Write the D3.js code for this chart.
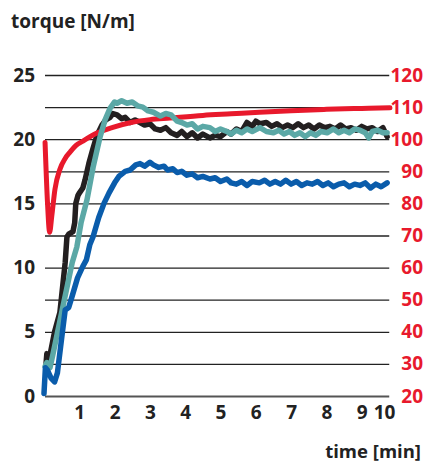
<!DOCTYPE html>
<html>
<head>
<meta charset="utf-8">
<script src="https://cdn.jsdelivr.net/npm/d3@7"></script>
<style>
  body { margin: 0; background: #fff; }
  text { font-family: "Open Sans", sans-serif; font-weight: 700; }
</style>
</head>
<body>
<script>
// tick labels
var leftTicks = [0, 5, 10, 15, 20, 25];
var rightTicks = [20, 30, 40, 50, 60, 70, 80, 90, 100, 110, 120];
var timeTicks = [1, 2, 3, 4, 5, 6, 7, 8, 9, 10];
var gridValues = [0, 2.5, 5, 7.5, 10, 12.5, 15, 17.5, 20, 22.5, 25];

// [time in min, torque N/m]
var blackSeries = [[0.06,2.6],[0.08,3.3],[0.12,3.0],[0.17,3.2],[0.3,5.0],[0.45,6.5],[0.6,10.4],[0.65,12.4],[0.7,12.6],
  [0.82,12.8],[0.87,13.5],[0.9,15.0],[0.96,15.6],[1.0,15.8],[1.1,16.2],[1.16,16.8],[1.27,18.1],[1.39,19.3],[1.5,20.3],
  [1.64,21.1],[1.75,21.5],[1.87,21.7],[1.95,22.0],[2.07,21.9],[2.2,21.6],[2.3,21.7],[2.44,21.3],[2.58,21.5],[2.72,21.3],
  [2.85,21.1],[3.0,21.2],[3.15,20.8],[3.3,20.7],[3.45,20.9],[3.6,20.5],[3.77,20.3],[3.9,20.6],[4.05,20.2],[4.2,20.5],
  [4.35,20.1],[4.5,20.4],[4.7,20.1],[4.85,20.3],[5.0,20.2],[5.18,20.6],[5.3,20.4],[5.45,20.8],[5.6,20.6],[5.75,21.3],
  [5.9,21.0],[6.0,21.4],[6.12,21.2],[6.3,21.3],[6.45,21.0],[6.6,21.2],[6.75,20.9],[6.9,21.1],[7.05,20.9],[7.2,21.2],
  [7.35,20.9],[7.5,21.1],[7.65,20.8],[7.8,21.1],[7.95,20.9],[8.1,21.0],[8.25,20.8],[8.4,21.1],[8.55,20.8],[8.7,20.9],
  [8.85,20.7],[9.0,21.0],[9.15,20.8],[9.3,20.9],[9.45,20.6],[9.6,20.9],[9.72,20.2]];

var tealSeries = [[0.03,2.3],[0.08,2.6],[0.17,2.2],[0.25,3.2],[0.5,6.5],[0.8,10.4],[0.93,11.6],[1.05,13.5],[1.22,15.3],
  [1.39,17.8],[1.59,20.2],[1.73,21.5],[1.87,22.4],[2.0,22.9],[2.07,22.8],[2.2,23.0],[2.35,22.8],[2.5,22.9],[2.65,22.6],
  [2.8,22.5],[2.95,22.2],[3.1,22.1],[3.3,21.8],[3.45,22.0],[3.6,21.9],[3.77,21.4],[3.9,21.3],[4.05,21.1],[4.2,21.2],
  [4.35,20.8],[4.5,21.0],[4.7,20.9],[4.85,20.6],[5.0,20.8],[5.18,20.6],[5.3,20.4],[5.45,20.7],[5.6,20.5],[5.75,20.8],
  [5.9,20.6],[6.12,20.9],[6.3,20.6],[6.5,20.5],[6.65,20.7],[6.8,20.4],[6.95,20.6],[7.1,20.3],[7.25,20.5],[7.4,20.2],
  [7.55,20.5],[7.7,20.3],[7.85,20.6],[8.02,20.5],[8.2,20.8],[8.35,20.5],[8.5,20.7],[8.65,20.5],[8.8,20.8],[8.95,20.7],
  [9.1,20.5],[9.2,20.1],[9.3,20.6],[9.45,20.7],[9.6,20.5],[9.72,20.5]];

var blueSeries = [[0.0,0.2],[0.04,2.2],[0.1,2.0],[0.2,1.4],[0.3,1.1],[0.38,1.8],[0.5,4.5],[0.6,6.7],[0.7,6.9],[0.8,7.8],
  [0.95,9.2],[1.1,10.1],[1.2,10.6],[1.3,11.8],[1.39,12.4],[1.55,13.9],[1.7,15.0],[1.84,15.8],[2.0,16.6],[2.12,17.1],
  [2.3,17.5],[2.44,17.6],[2.6,18.0],[2.72,18.1],[2.85,17.9],[3.0,18.2],[3.1,18.0],[3.25,17.8],[3.4,17.9],[3.5,17.6],
  [3.65,17.7],[3.77,17.4],[3.9,17.5],[4.05,17.2],[4.2,17.3],[4.35,17.0],[4.5,17.1],[4.7,16.9],[4.85,17.0],[5.0,16.7],
  [5.18,16.9],[5.3,16.6],[5.45,16.5],[5.6,16.7],[5.75,16.4],[5.9,16.7],[6.1,16.6],[6.25,16.8],[6.4,16.5],[6.55,16.7],
  [6.7,16.5],[6.85,16.8],[7.0,16.5],[7.15,16.7],[7.3,16.4],[7.45,16.6],[7.6,16.5],[7.75,16.7],[7.9,16.4],[8.05,16.6],
  [8.2,16.3],[8.35,16.5],[8.5,16.6],[8.65,16.3],[8.8,16.5],[8.95,16.4],[9.1,16.6],[9.25,16.2],[9.4,16.5],[9.55,16.3],
  [9.72,16.6]];

// red curve uses the right-hand axis
var redSeries = [[0.03,99],[0.1,80],[0.16,71],[0.22,76],[0.31,84.4],[0.45,90.6],[0.6,94],[0.74,96],[0.9,98],[1.1,99.4],
  [1.5,101.9],[1.95,103.7],[2.5,105.3],[3.0,106.1],[3.57,106.6],[4.5,107.4],[5.3,107.9],[6.1,108.4],[7,108.9],[8,109.3],
  [9,109.6],[9.8,109.8]];

var width = 424, height = 464;

var x = d3.scaleLinear().domain([0, 10]).range([44, 397]);
var yLeft = d3.scaleLinear().domain([0, 25]).range([396, 75]);
var yRight = d3.scaleLinear().domain([20, 120]).range([396, 75]);

var svg = d3.select("body").append("svg")
    .attr("width", width)
    .attr("height", height);

// grid lines
svg.append("g").selectAll("line")
    .data(gridValues)
    .enter().append("line")
    .attr("x1", 45)
    .attr("x2", x(9.78))
    .attr("y1", function(d) { return yLeft(d) + 0.5; })
    .attr("y2", function(d) { return yLeft(d) + 0.5; })
    .attr("stroke", function(d) { return d === 0 ? "#555" : "#222"; })
    .attr("stroke-width", function(d) { return d === 0 ? 2 : 1.3; });

// left axis
var leftAxis = svg.append("g")
    .attr("transform", "translate(45,0)")
    .call(d3.axisLeft(yLeft).tickValues(leftTicks).tickSize(0).tickPadding(10));
leftAxis.select(".domain").remove();
leftAxis.selectAll("text").attr("font-size", 19).attr("fill", "#222")
    .style("font-family", "'Open Sans', sans-serif").style("font-weight", 700);

// right axis (red)
var rightAxis = svg.append("g")
    .attr("transform", "translate(423,0)")
    .call(d3.axisRight(yRight).tickValues(rightTicks).tickSize(0).tickPadding(0));
rightAxis.select(".domain").remove();
rightAxis.selectAll("text").attr("font-size", 19).attr("fill", "#e8192c")
    .attr("text-anchor", "end").attr("x", 0)
    .style("font-family", "'Open Sans', sans-serif").style("font-weight", 700);

// time axis
var timeAxis = svg.append("g")
    .attr("transform", "translate(0,398)")
    .call(d3.axisBottom(x).tickValues(timeTicks).tickSize(0).tickPadding(8));
timeAxis.select(".domain").remove();
timeAxis.selectAll("text").attr("font-size", 19).attr("fill", "#222")
    .style("font-family", "'Open Sans', sans-serif").style("font-weight", 700)
    .attr("dx", function(d) { return d === 10 ? -13 : 0; });

// lines
var line = d3.line()
    .x(function(d) { return x(d[0]); })
    .y(function(d) { return yLeft(d[1]); });

var redLine = d3.line()
    .curve(d3.curveMonotoneX)
    .x(function(d) { return x(d[0]); })
    .y(function(d) { return yRight(d[1]); });

function drawLine(data, gen, color, w) {
  svg.append("path")
      .datum(data)
      .attr("fill", "none")
      .attr("stroke", color)
      .attr("stroke-width", w)
      .attr("stroke-linejoin", "round")
      .attr("stroke-linecap", "round")
      .attr("d", gen);
}

drawLine(blackSeries, line, "#231f20", 5.5);
drawLine(redSeries, redLine, "#e8192c", 5);
drawLine(tealSeries, line, "#5ba8a6", 5.5);
drawLine(blueSeries, line, "#0a5cab", 5.5);

// titles
svg.append("text")
    .attr("x", 11).attr("y", 28)
    .attr("font-size", 19).attr("fill", "#222")
    .text("torque [N/m]");

svg.append("text")
    .attr("x", 421).attr("y", 458)
    .attr("text-anchor", "end")
    .attr("font-size", 18.5).attr("fill", "#222")
    .text("time [min]");
</script>
</body>
</html>
